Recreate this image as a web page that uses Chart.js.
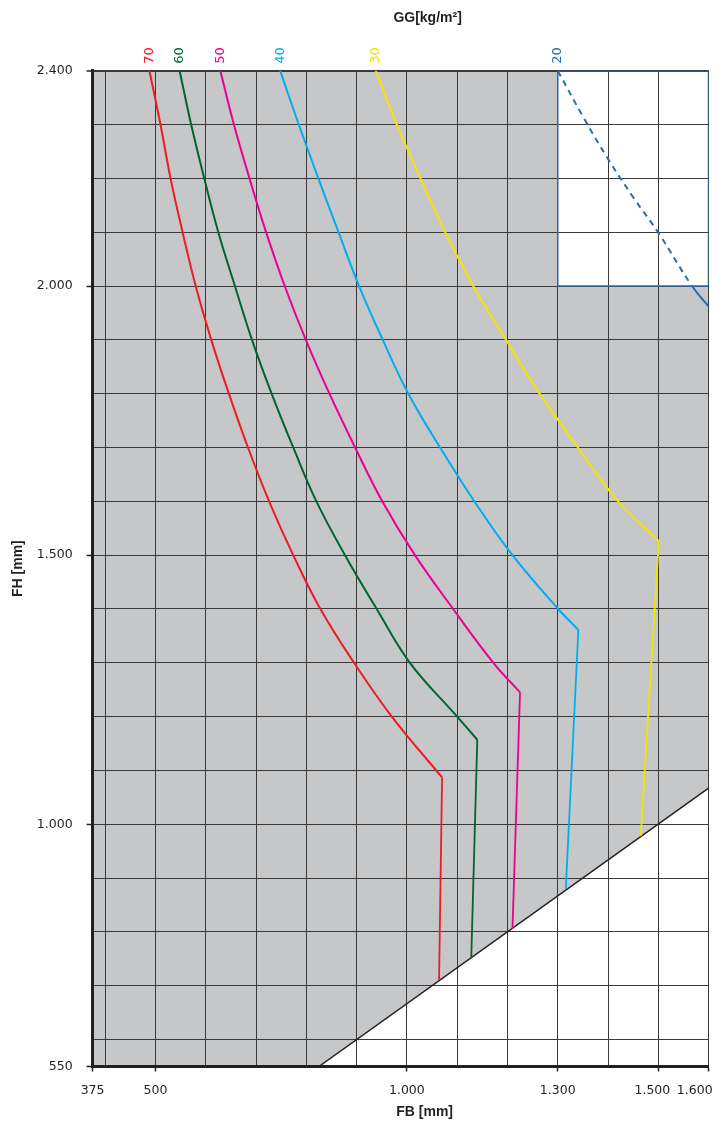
<!DOCTYPE html>
<html>
<head>
<meta charset="utf-8">
<script src="https://cdn.jsdelivr.net/npm/chart.js@4/dist/chart.umd.min.js"></script>
<style>
html,body{margin:0;padding:0;background:#ffffff;}
#wrap{width:723px;height:1122px;position:relative;}
</style>
</head>
<body>
<div id="wrap"><canvas id="c"></canvas></div>
<script>
// ---- axis ticks / labels ----
const xTickValues = [375, 500, 1000, 1300, 1500, 1600];
const xTickLabels = ['375', '500', '1.000', '1.300', '1.500', '1.600'];
const yTickValues = [550, 1000, 1500, 2000, 2400];
const yTickLabels = ['550', '1.000', '1.500', '2.000', '2.400'];
const xRange = [375, 1600];
const yRange = [550, 2400];
const gridStep = 100;
const xTitle = 'FB [mm]';
const yTitle = 'FH [mm]';
const topTitle = 'GG[kg/m²]';

// ---- series (GG curves, FB / FH in mm) ----
const seriesNames = ['70', '60', '50', '40', '30', '20'];
const seriesColors = ['#ed1c24', '#00652e', '#ec008c', '#00aeef', '#f2e500', '#2b6cae'];

const fb70 = [488, 510, 530, 554, 580, 611, 646, 684, 726, 774, 828, 895, 970, 1070, 1064];
const fh70 = [2400, 2300, 2200, 2100, 2000, 1900, 1800, 1700, 1600, 1500, 1400, 1300, 1200, 1087, 711];

const fb60 = [548, 571, 597, 625, 658, 692, 731, 774, 820, 877, 940, 1006, 1100, 1140, 1128];
const fh60 = [2400, 2300, 2200, 2100, 2000, 1900, 1800, 1700, 1600, 1500, 1400, 1300, 1200, 1157, 751];

const fb50 = [629, 656, 687, 720, 757, 799, 846, 897, 951, 1016, 1092, 1172, 1225, 1210];
const fh50 = [2400, 2300, 2200, 2100, 2000, 1900, 1800, 1700, 1600, 1500, 1400, 1300, 1245, 806];

const fb40 = [748, 785, 824, 864, 905, 952, 1003, 1066, 1134, 1210, 1301, 1341, 1316];
const fh40 = [2400, 2300, 2200, 2100, 2000, 1900, 1800, 1700, 1600, 1500, 1400, 1361, 880];

const fb30 = [938, 980, 1027, 1076, 1132, 1197, 1264, 1340, 1420, 1501, 1465];
const fh30 = [2400, 2300, 2200, 2100, 2000, 1900, 1800, 1700, 1600, 1526, 978];

const fb20 = [1300, 1350, 1400, 1450, 1500, 1567, 1600];
const fh20 = [2400, 2315, 2236, 2165, 2099, 2000, 1962];

// ---- regions ----
const grayFB = [375, 1300, 1300, 1600];
const grayFH = [2400, 2400, 2000, 2000];
const boxFB = [1300, 1300, 1600, 1600, 1300];
const boxFH = [2400, 2000, 2000, 2400, 2400];
const diagFB = [825, 1600];
const diagFH = [550, 1067];

const pts = (xs, ys) => xs.map((x, i) => ({x: x, y: ys[i]}));
const seriesFB = [fb70, fb60, fb50, fb40, fb30, fb20];
const seriesFH = [fh70, fh60, fh50, fh40, fh30, fh20];

const gridValues = (range) => {
  const v = [range[0]];
  for (let t = Math.ceil(range[0] / gridStep) * gridStep; t <= range[1]; t += gridStep) {
    if (t !== range[0]) v.push(t);
  }
  if (v[v.length - 1] !== range[1]) v.push(range[1]);
  return v;
};

const TXT = '#231f20';
const GRID = '#3a3a3a';

// each curve: smooth part up to its widest point, then the straight drop to the limit line
const curveSets = [];
seriesNames.forEach((name, i) => {
  const all = pts(seriesFB[i], seriesFH[i]);
  let bend = 0;
  all.forEach((p, k) => { if (p.x >= all[bend].x) bend = k; });
  const base = {
    showLine: true,
    borderColor: seriesColors[i],
    backgroundColor: seriesColors[i],
    borderWidth: 2,
    pointRadius: 0,
    fill: false
  };
  const curve = Object.assign({}, base, {label: name, data: all.slice(0, bend + 1), tension: 0.4});
  if (name === '20') {
    curve.segment = {
      borderDash: ctx => (ctx.p1.parsed.y >= boxFH[1] ? [6, 5] : undefined)
    };
  }
  curveSets.push(curve);
  if (bend < all.length - 1) {
    curveSets.push(Object.assign({}, base, {label: name + ' drop', data: all.slice(bend), tension: 0, borderWidth: 1.8}));
  }
});

const datasets = curveSets.concat([
  {
    label: 'limit',
    data: pts(diagFB, diagFH),
    showLine: true,
    borderColor: TXT,
    borderWidth: 1.5,
    backgroundColor: '#ffffff',
    pointRadius: 0,
    fill: 'start'
  },
  {
    label: 'box',
    data: pts(boxFB, boxFH),
    showLine: true,
    borderColor: '#2b6cae',
    borderWidth: 1.6,
    pointRadius: 0,
    fill: false
  },
  {
    label: 'area',
    data: pts(grayFB, grayFH),
    showLine: true,
    borderColor: 'rgba(0,0,0,0)',
    borderWidth: 1,
    backgroundColor: '#c6c7c9',
    pointRadius: 0,
    fill: 'start'
  }
]);

const textPlugin = {
  id: 'textPlugin',
  afterDraw(chart) {
    const {ctx, chartArea, scales} = chart;
    ctx.save();
    seriesNames.forEach((name, i) => {
      const x = scales.x.getPixelForValue(seriesFB[i][0]);
      const y = scales.y.getPixelForValue(seriesFH[i][0]) - 7;
      ctx.save();
      ctx.translate(x, y);
      ctx.rotate(-Math.PI / 2);
      ctx.font = '13px "DejaVu Sans"';
      ctx.fillStyle = seriesColors[i];
      ctx.textAlign = 'left';
      ctx.textBaseline = 'middle';
      ctx.fillText(name, 0, 0);
      ctx.restore();
    });
    const cx = (chartArea.left + chartArea.right) / 2 + 27;
    ctx.font = 'bold 14px "Liberation Sans"';
    ctx.fillStyle = TXT;
    ctx.textAlign = 'center';
    ctx.textBaseline = 'middle';
    ctx.fillText(topTitle, cx, 18);
    ctx.fillText(xTitle, cx - 3, 1112);
    ctx.restore();
  }
};

// trailing spaces nudge the crowded right-hand labels leftwards (as in the original)
const xLabelNudge = {1500: '   ', 1600: '       '};

new Chart(document.getElementById('c'), {
  type: 'scatter',
  data: {datasets: datasets},
  options: {
    responsive: true,
    maintainAspectRatio: false,
    animation: false,
    layout: {padding: {top: 70.7, right: 14.4, bottom: 0, left: 0}},
    plugins: {
      legend: {display: false},
      tooltip: {enabled: false},
      filler: {drawTime: 'beforeDraw'}
    },
    scales: {
      x: {
        type: 'linear',
        min: xRange[0],
        max: xRange[1],
        afterBuildTicks: s => { s.ticks = gridValues(xRange).map(v => ({value: v})); },
        afterFit: s => { s.height = 55.5; s.paddingLeft = 0; s.paddingRight = 0; },
        ticks: {
          autoSkip: false,
          maxRotation: 0,
          minRotation: 0,
          padding: 12,
          color: TXT,
          font: {family: 'DejaVu Sans', size: 12.5},
          callback: (value) => {
            const i = xTickValues.indexOf(value);
            if (i < 0) return '';
            return xTickLabels[i] + (xLabelNudge[value] || '');
          }
        },
        grid: {
          color: ctx => (ctx.tick && ctx.tick.value === xRange[0]) ? 'rgba(0,0,0,0)' : GRID,
          lineWidth: 1,
          tickLength: 5,
          tickWidth: 1.5,
          tickColor: ctx => (ctx.tick && xTickValues.includes(ctx.tick.value)) ? TXT : 'rgba(0,0,0,0)'
        },
        border: {display: true, width: 3, color: TXT}
      },
      y: {
        type: 'linear',
        min: yRange[0],
        max: yRange[1],
        afterBuildTicks: s => { s.ticks = gridValues(yRange).map(v => ({value: v})); },
        afterFit: s => { s.width = 92.6; s.paddingTop = 0; s.paddingBottom = 0; },
        ticks: {
          autoSkip: false,
          padding: 14,
          color: TXT,
          font: {family: 'DejaVu Sans', size: 12.5},
          callback: (value) => {
            const i = yTickValues.indexOf(value);
            return i < 0 ? '' : yTickLabels[i];
          }
        },
        grid: {
          color: GRID,
          lineWidth: ctx => (ctx.tick && ctx.tick.value === yRange[1]) ? 2 : 1,
          tickLength: 6,
          tickWidth: 1.5,
          tickColor: ctx => (ctx.tick && yTickValues.includes(ctx.tick.value)) ? TXT : 'rgba(0,0,0,0)'
        },
        border: {display: true, width: 3, color: TXT},
        title: {
          display: true,
          text: yTitle,
          color: TXT,
          font: {family: 'Liberation Sans', size: 14, weight: 'bold'},
          padding: {top: 10, bottom: 0}
        }
      }
    }
  },
  plugins: [textPlugin]
});
</script>
</body>
</html>
